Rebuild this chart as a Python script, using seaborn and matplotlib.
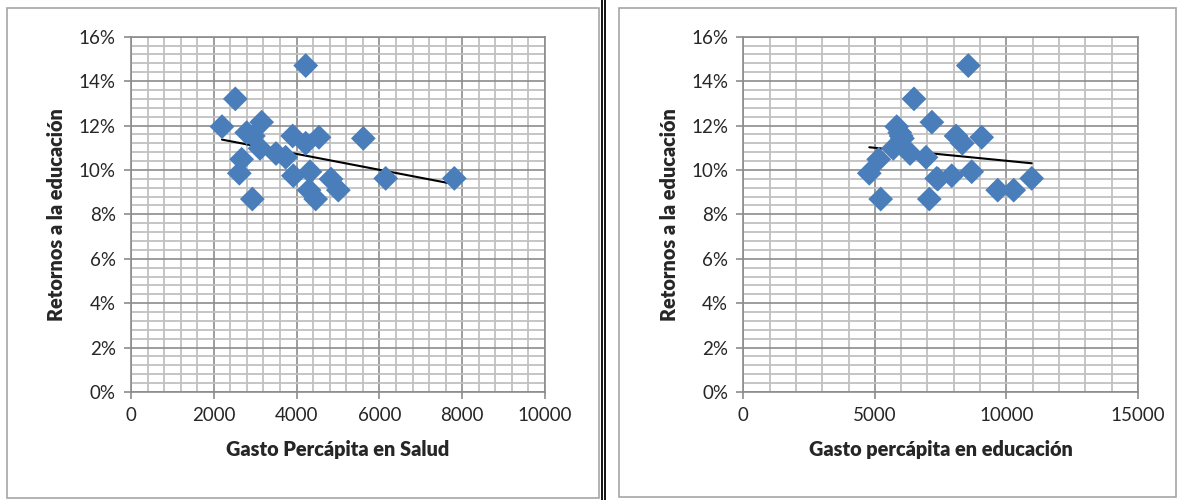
import matplotlib
matplotlib.use("Agg")
import matplotlib.pyplot as plt
from matplotlib.patches import Rectangle
from matplotlib.lines import Line2D
from matplotlib.ticker import MultipleLocator, FuncFormatter
import seaborn as sns
import pandas as pd

# retornos a la educacion (%), one value per country
retornos = [14.7, 13.2, 12.15, 11.95, 11.68, 11.53, 11.53, 11.47, 11.42, 11.2, 10.97, 10.74,
            10.57, 10.48, 9.92, 9.85, 9.74, 9.62, 9.62, 9.59, 9.09, 9.09, 8.69, 8.69]
# gasto percapita en salud
gasto_salud = [4220, 2520, 3156, 2198, 2794, 2955, 3905, 4541, 5612, 4220, 3116, 3502,
               3736, 2673, 4324, 2617, 3921, 6152, 7810, 4831, 4300, 5008, 2931, 4461]
# gasto percapita en educacion
gasto_educ = [8555, 6490, 7170, 5833, 5950, 6000, 8090, 9065, 6050, 8327, 5703, 6338,
              6947, 5148, 8684, 4791, 7924, 7353, 10966, 7400, 9673, 10281, 5224, 7072]

df = pd.DataFrame({"ret": [r / 100 for r in retornos], "salud": gasto_salud, "educ": gasto_educ})

sns.set_style("white")
plt.rcParams["font.family"] = ["Lato", "DejaVu Sans"]

fig = plt.figure(figsize=(11.83, 5.0), dpi=100)
W, H = 1183.0, 500.0

# panel frames
fig.patches.append(Rectangle((7 / W, 1 - 498 / H), 592 / W, 490 / H, transform=fig.transFigure,
                             fill=False, edgecolor="#a6a6a6", linewidth=1.2))
fig.patches.append(Rectangle((619 / W, 1 - 497 / H), 557 / W, 489 / H, transform=fig.transFigure,
                             fill=False, edgecolor="#a6a6a6", linewidth=1.2))
for xx in (602, 605.5):
    fig.lines.append(Line2D([xx / W, xx / W], [0, 1], transform=fig.transFigure, color="black", linewidth=1.3))

blue = "#4a7ebb"
panels = [
    ((131, 414), "salud", 10000, 2000, 400, "Gasto Percápita en Salud"),
    ((743.3, 394.5), "educ", 15000, 5000, 1000, "Gasto percápita en educación"),
]

for (x0, w), col, xmax, xmaj, xmin, xlabel in panels:
    ax = fig.add_axes([x0 / W, 108 / H, w / W, 355.3 / H])
    ax.set_axisbelow(True)
    sns.regplot(data=df, x=col, y="ret", ax=ax, scatter=False, ci=None, truncate=True,
                line_kws={"color": "black", "linewidth": 1.5})
    sns.scatterplot(data=df, x=col, y="ret", ax=ax, marker="D", s=160, color=blue,
                    edgecolor="none", zorder=3)
    ax.set_xlim(0, xmax)
    ax.set_ylim(0, 0.16)
    ax.xaxis.set_major_locator(MultipleLocator(xmaj))
    ax.xaxis.set_minor_locator(MultipleLocator(xmin))
    ax.yaxis.set_major_locator(MultipleLocator(0.02))
    ax.yaxis.set_minor_locator(MultipleLocator(0.004))
    ax.yaxis.set_major_formatter(FuncFormatter(lambda v, p: f"{v * 100:.0f}%"))
    ax.grid(which="major", color="#8c8c8c", linewidth=1.2)
    ax.grid(which="minor", color="#c0c0c0", linewidth=1.3)
    for s in ax.spines.values():
        s.set_color("#8c8c8c")
        s.set_linewidth(1.2)
    ax.tick_params(which="major", direction="out", length=5, width=1.2, color="#8c8c8c",
                   labelsize=13.5, pad=6, bottom=True, left=True)
    ax.tick_params(which="minor", length=0)
    ax.set_xlabel(xlabel, fontsize=14.3, fontweight="heavy", labelpad=11)
    ax.set_ylabel("Retornos a la educación", fontsize=14.3, fontweight="heavy", labelpad=9)

fig.savefig("out.png", dpi=100)
